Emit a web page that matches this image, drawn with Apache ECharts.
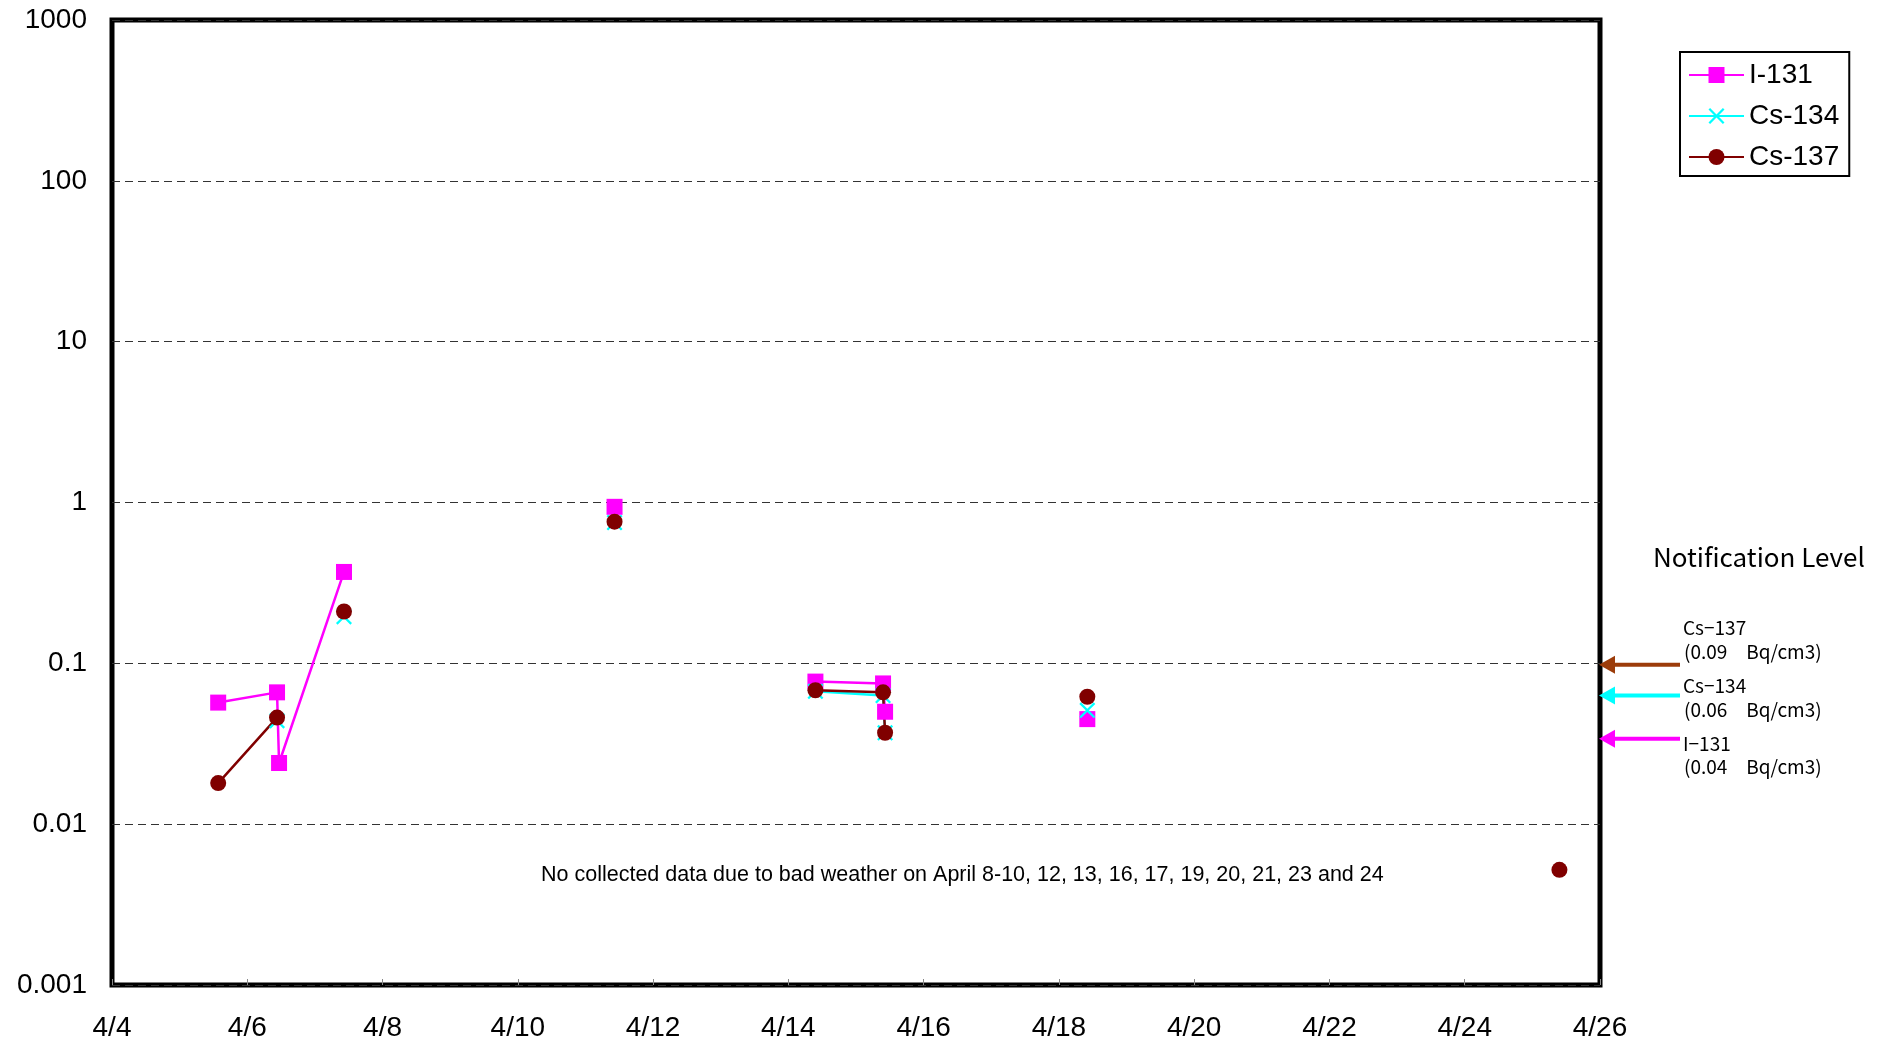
<!DOCTYPE html>
<html>
<head>
<meta charset="utf-8">
<script src="https://cdn.jsdelivr.net/npm/echarts@6/dist/echarts.min.js"></script>
<style>
html,body{margin:0;padding:0;background:#fff;}
#chart{width:1890px;height:1044px;}
</style>
</head>
<body>
<div id="chart"></div>
<script>
// ---- data (day of April) ----
const sampleDays = [5.57, 6.44, 6.47, 7.43, 11.43, 14.40, 15.40, 15.43, 18.42, 25.40];
const noDataDays = [8, 9, 10, 12, 13, 16, 17, 19, 20, 21, 23, 24];
const i131  = [0.057, 0.066, 0.024, 0.37, 0.94, 0.077, 0.075, 0.050, 0.045, null];
const cs134 = [null, 0.044, null, 0.195, 0.75, 0.067, 0.063, 0.037, 0.051, null];
const cs137 = [0.018, 0.046, null, 0.21, 0.76, 0.068, 0.066, 0.037, 0.062, 0.0052];
const seriesNames = ['I-131', 'Cs-134', 'Cs-137'];
const yTickLabels = ['0.001', '0.01', '0.1', '1', '10', '100', '1000'];
const notifyNames = ['Cs\u2212137', 'Cs\u2212134', 'I\u2212131'];
const notifyText = ['(0.09\u3000Bq/cm3)', '(0.06\u3000Bq/cm3)', '(0.04\u3000Bq/cm3)'];
const notifyArrowAt = [0.098, 0.063, 0.034];
const noteText = 'No collected data due to bad weather on April 8-10, 12, 13, 16, 17, 19, 20, 21, 23 and 24';

function build(vals) {
  const pts = sampleDays.map((d, i) => [d, vals[i] == null ? '-' : vals[i]]);
  noDataDays.forEach(d => pts.push([d, '-']));
  pts.sort((a, b) => a[0] - b[0]);
  return pts;
}

const crossPath = 'path://M10,0 L50,40 L90,0 L100,10 L60,50 L100,90 L90,100 L50,60 L10,100 L0,90 L40,50 L0,10 Z';
const colors = ['#FF00FF', '#00FFFF', '#800000'];
const arrowColors = ['#9C3C0A', '#00FFFF', '#FF00FF'];

const chart = echarts.init(document.getElementById('chart'), null, {renderer: 'canvas'});
const font = '"Liberation Sans", Arial, sans-serif';

const option = {
  animation: false,
  backgroundColor: '#fff',
  grid: {left: 112, right: 290, top: 20, bottom: 59, show: true, borderColor: '#000', borderWidth: 5, backgroundColor: 'transparent'},
  legend: {
    orient: 'vertical', left: 1680, top: 52,
    padding: [9, 10, 5, 8], itemGap: 13,
    itemWidth: 55, itemHeight: 20,
    borderColor: '#000', borderWidth: 2, backgroundColor: '#fff',
    textStyle: {fontSize: 28, color: '#000', fontFamily: font},
    data: seriesNames
  },
  xAxis: {
    type: 'value', min: 4, max: 26, interval: 2,
    axisLine: {show: false},
    axisTick: {show: true, inside: true, length: 6, lineStyle: {color: '#888', width: 1}},
    axisLabel: {fontSize: 28, color: '#000', fontFamily: font, margin: 29, formatter: v => '4/' + v},
    splitLine: {show: false}
  },
  yAxis: {
    type: 'log', logBase: 10, min: 0.001, max: 1000,
    axisLine: {show: false},
    axisTick: {show: false},
    axisLabel: {fontSize: 28, color: '#000', fontFamily: font, margin: 25, padding: [7, 0, 0, 0],
      formatter: v => yTickLabels[Math.round(Math.log10(v)) + 3]},
    splitLine: {show: true, lineStyle: {color: '#333', width: 1, type: [8, 5]}}
  },
  series: [
    {name: seriesNames[0], type: 'line', data: build(i131), connectNulls: false,
     symbol: 'rect', symbolSize: 16, lineStyle: {color: colors[0], width: 2.5},
     itemStyle: {color: colors[0]}},
    {name: seriesNames[1], type: 'line', data: build(cs134), connectNulls: false,
     symbol: crossPath, symbolSize: 16, lineStyle: {color: colors[1], width: 2.5},
     itemStyle: {color: colors[1]}},
    {name: seriesNames[2], type: 'line', data: build(cs137), connectNulls: false,
     symbol: 'circle', symbolSize: 16, lineStyle: {color: colors[2], width: 2.5},
     itemStyle: {color: colors[2]}}
  ]
};
chart.setOption(option);

// notification arrows positioned on the y scale
const gfx = [];
const rightX = chart.convertToPixel({gridIndex: 0}, [26, 1])[0];
notifyArrowAt.forEach((v, i) => {
  const y = chart.convertToPixel({yAxisIndex: 0}, v);
  gfx.push({type: 'line', shape: {x1: rightX + 12, y1: y, x2: rightX + 80, y2: y},
    style: {stroke: arrowColors[i], lineWidth: 4}, z: 10});
  gfx.push({type: 'polygon', shape: {points: [[rightX - 1, y], [rightX + 15, y - 9], [rightX + 15, y + 9]]},
    style: {fill: arrowColors[i]}, z: 10});
});
const cjk = '"Noto Sans CJK JP", "Noto Sans", sans-serif';
gfx.push({type: 'text', left: 1653, top: 544, style: {text: 'Notification Level', font: '26px ' + cjk, fill: '#000'}});
const nameY = [618, 676, 734];
const valY = [642, 700, 757];
notifyNames.forEach((n, i) => {
  gfx.push({type: 'text', left: 1683, top: nameY[i], style: {text: n, font: '19px ' + cjk, fill: '#000'}});
  gfx.push({type: 'text', left: 1684, top: valY[i], style: {text: notifyText[i], font: '19px ' + cjk, fill: '#000'}});
});
gfx.push({type: 'text', left: 541, top: 864, style: {text: noteText, font: '21.5px ' + font, fill: '#000'}});
chart.setOption({graphic: gfx});
</script>
</body>
</html>
